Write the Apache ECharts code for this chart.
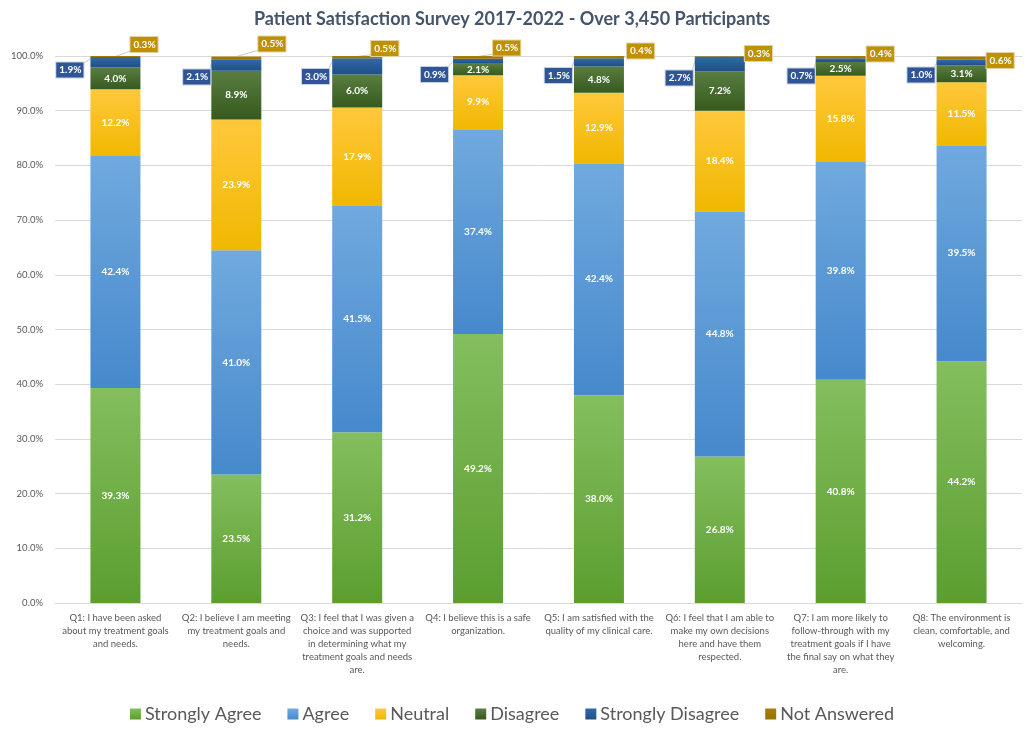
<!DOCTYPE html>
<html>
<head>
<meta charset="utf-8">
<script src="https://cdn.jsdelivr.net/npm/echarts@6/dist/echarts.min.js"></script>
<style>html,body{margin:0;padding:0;background:#fff}#c{width:1024px;height:733px}</style>
</head>
<body>
<div id="c"></div>
<script>
var categories = [
  "Q1: I have been asked\nabout my treatment goals\nand needs.",
  "Q2: I believe I am meeting\nmy treatment goals and\nneeds.",
  "Q3: I feel that I was given a\nchoice and was supported\nin determining what my\ntreatment goals and needs\nare.",
  "Q4: I believe this is a safe\norganization.",
  "Q5: I am satisfied with the\nquality of my clinical care.",
  "Q6: I feel that I am able to\nmake my own decisions\nhere and have them\nrespected.",
  "Q7: I am more likely to\nfollow-through with my\ntreatment goals if I have\nthe final say on what they\nare.",
  "Q8: The environment is\nclean, comfortable, and\nwelcoming."
];
var stronglyAgree    = [39.3, 23.5, 31.2, 49.2, 38.0, 26.8, 40.8, 44.2];
var agree            = [42.4, 41.0, 41.5, 37.4, 42.4, 44.8, 39.8, 39.5];
var neutral          = [12.2, 23.9, 17.9, 9.9, 12.9, 18.4, 15.8, 11.5];
var disagree         = [4.0, 8.9, 6.0, 2.1, 4.8, 7.2, 2.5, 3.1];
var stronglyDisagree = [1.9, 2.1, 3.0, 0.9, 1.5, 2.7, 0.7, 1.0];
var notAnswered      = [0.3, 0.5, 0.5, 0.5, 0.4, 0.3, 0.4, 0.6];
var seriesNames = ["Strongly Agree", "Agree", "Neutral", "Disagree", "Strongly Disagree", "Not Answered"];

// callout placement (pixel offsets of the callout boxes, styling only)
var sdBoxShiftX = [-7, -1, -3, -5, -2, -2, -1, -2];
var sdBoxShiftY = [14, 21, 20.5, 18.5, 19.5, 22, 20, 19];
var naBoxShiftX = [-10, -3, -11, -10, 3, 0, 1, 0];
var naBoxShiftY = [-11.5, -12, -7.5, -8, -5, -2.5, -2, 4.5];

var BAR_W = 50;
var FONT = "Lato, 'Open Sans', sans-serif";
function grad(top, bottom) {
  return new echarts.graphic.LinearGradient(0, 0, 0, 1, [{offset: 0, color: top}, {offset: 1, color: bottom}]);
}
function pct(p) { return p.value.toFixed(1) + '%'; }
var insideLabel = {show: true, position: 'inside', color: '#fff', fontWeight: 'bold', fontSize: 10, fontFamily: FONT, formatter: pct};

function barSeries(name, data, top, bottom, label, extra) {
  var s = {
    name: name, type: 'bar', stack: 'total', data: data, barWidth: BAR_W,
    itemStyle: {color: grad(top, bottom)},
    label: label
  };
  if (extra) for (var k in extra) s[k] = extra[k];
  return s;
}

// top of the "Strongly Disagree" segment for each question (stack sum up to SD)
var sdTop = categories.map(function (c, i) {
  return [i, stronglyAgree[i] + agree[i] + neutral[i] + disagree[i] + stronglyDisagree[i]];
});

var chart = echarts.init(document.getElementById('c'), null, {renderer: 'canvas'});
function topY() {
  try { return chart.convertToPixel({yAxisIndex: 0}, 100); } catch (e) { return 56; }
}
var legendColors = ['#70ad47', '#5b9bd5', '#ffc000', '#375623', '#255e91', '#9c7300'];
var boxLabel = {show: true, color: '#fff', fontWeight: 'bold', fontSize: 10, fontFamily: FONT,
  borderWidth: 1, padding: [3, 2, 2, 3], formatter: pct};

chart.setOption({
  animation: false,
  color: legendColors,
  title: {
    text: 'Patient Satisfaction Survey 2017-2022 - Over 3,450 Participants',
    left: 'center', top: 5,
    textStyle: {fontSize: 18, fontWeight: 'bold', color: '#44546a', fontFamily: FONT}
  },
  legend: {
    bottom: 5, left: 'center', itemWidth: 11, itemHeight: 11, itemGap: 26,
    icon: 'rect',
    textStyle: {fontSize: 18, color: '#595959', fontFamily: FONT, padding: [0, 0, 0, -1]},
    data: seriesNames
  },
  grid: {left: 55, right: 2, top: 56, bottom: 130, containLabel: false},
  xAxis: {
    type: 'category', data: categories,
    axisLine: {lineStyle: {color: '#d9d9d9'}},
    axisTick: {show: false},
    axisLabel: {interval: 0, fontSize: 9.5, color: '#595959', fontFamily: FONT, lineHeight: 13, margin: 8}
  },
  yAxis: {
    type: 'value', min: 0, max: 100, interval: 10,
    axisLine: {show: false}, axisTick: {show: false},
    splitLine: {lineStyle: {color: '#d9d9d9'}},
    axisLabel: {fontSize: 9.5, color: '#595959', fontFamily: FONT, margin: 12,
      formatter: function (v) { return v.toFixed(1) + '%'; }}
  },
  series: [
    barSeries(seriesNames[0], stronglyAgree, '#84be5e', '#5b9e2f', insideLabel),
    barSeries(seriesNames[1], agree, '#70a9de', '#4689cc', insideLabel),
    barSeries(seriesNames[2], neutral, '#ffc83c', '#f0b800', insideLabel),
    barSeries(seriesNames[3], disagree, '#5a7e40', '#355a1f', insideLabel),
    barSeries(seriesNames[4], stronglyDisagree, '#2f6aa8', '#1f4f85',
      Object.assign({}, boxLabel, {position: 'left', backgroundColor: '#2f5597', borderColor: '#c9d1e0'}),
      {
        labelLayout: function (p) {
          var i = p.dataIndex, r = p.rect, t = topY();
          return {x: r.x + sdBoxShiftX[i], y: t + sdBoxShiftY[i], align: 'right', verticalAlign: 'middle'};
        }
      }),
    barSeries(seriesNames[5], notAnswered, '#a88000', '#9a7200',
      Object.assign({}, boxLabel, {position: 'right', backgroundColor: '#bf9000', borderColor: '#e0d3a8'}),
      {
        labelLayout: function (p) {
          var i = p.dataIndex, r = p.rect, t = topY();
          return {x: r.x + r.width + naBoxShiftX[i], y: t + naBoxShiftY[i], align: 'left', verticalAlign: 'middle'};
        }
      }),
    {
      name: 'callouts', type: 'custom', data: sdTop, silent: true, clip: false, z: 1,
      renderItem: function (params, api) {
        var i = api.value(0);
        var top = Math.min(api.value(1), 100);
        var p100 = api.coord([i, 100]);
        var pSd = api.coord([i, top]);
        var cx = p100[0], left = cx - BAR_W / 2, right = cx + BAR_W / 2;
        var style = {stroke: '#c8c8c8', lineWidth: 1, fill: null};
        var sdBoxRight = left + sdBoxShiftX[i];
        var sdBoxTopY = p100[1] + sdBoxShiftY[i] - 6;
        var naBoxLeft = right + naBoxShiftX[i];
        var naBoxBotY = p100[1] + naBoxShiftY[i] + 6;
        return {
          type: 'group',
          children: [
            {type: 'line', shape: {x1: sdBoxRight - 1, y1: sdBoxTopY, x2: left + 1, y2: pSd[1] + 1}, style: style},
            {type: 'line', shape: {x1: cx, y1: p100[1] + 0.5, x2: naBoxLeft + 1, y2: naBoxBotY}, style: style}
          ]
        };
      }
    }
  ]
});
</script>
</body>
</html>
